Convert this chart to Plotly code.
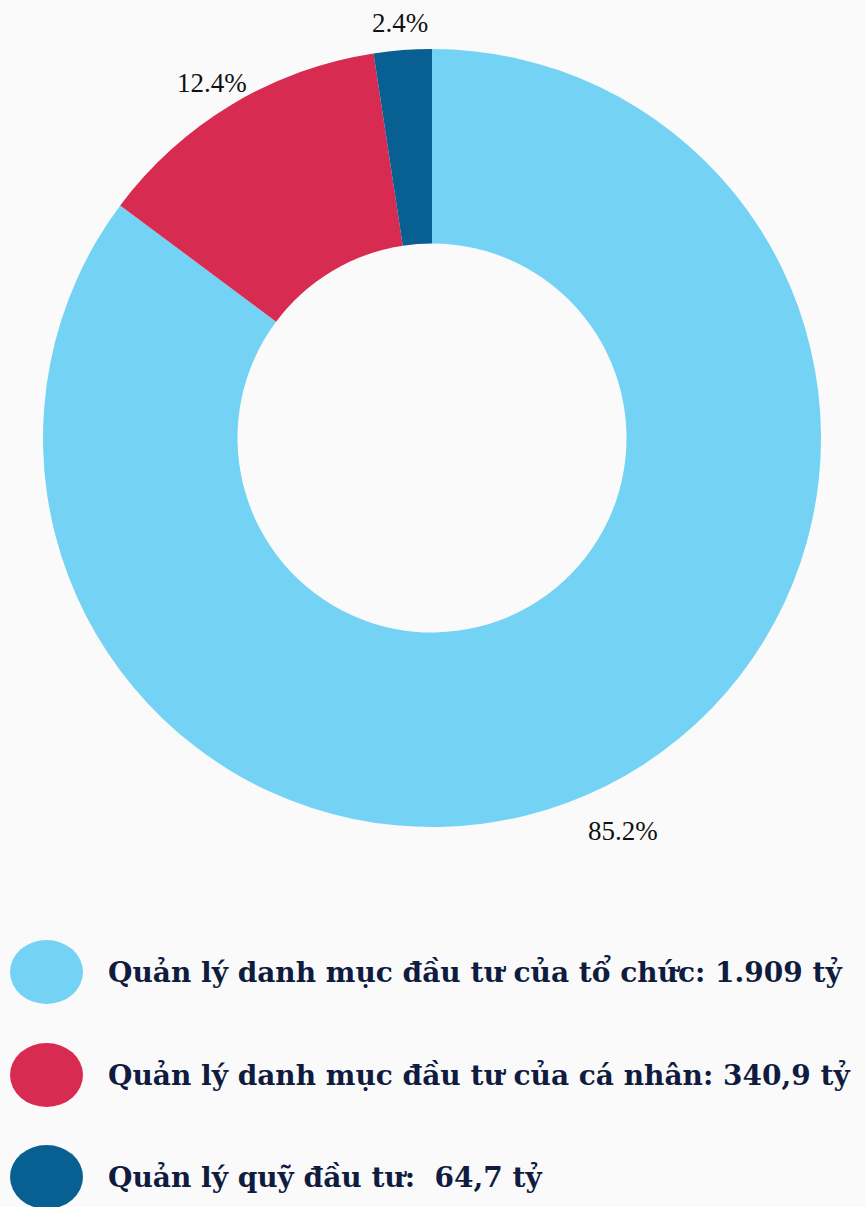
import math
import plotly.graph_objects as go

# Data
categories = ["Quản lý danh mục đầu tư của tổ chức", "Quản lý danh mục đầu tư của cá nhân", "Quản lý quỹ đầu tư"]
shares = [85.2, 12.4, 2.4]
amounts = ["1.909 tỷ", "340,9 tỷ", "\u00a064,7 tỷ"]
colors = ["#74D3F4", "#D82B51", "#075F92"]

W, H = 865, 1207
CX, CY, R = 432, 438, 389  # pie geometry in px (from top-left)

fig = go.Figure()
fig.add_trace(go.Pie(
    labels=categories,
    values=shares,
    hole=0.5,
    sort=False,
    direction="clockwise",
    rotation=0,
    marker=dict(colors=colors, line=dict(width=0)),
    textinfo="none",
    showlegend=False,
    hoverinfo="label+percent",
    domain=dict(x=[(CX - R) / W, (CX + R) / W], y=[(H - CY - R) / H, (H - CY + R) / H]),
))

annotations = []
# percentage labels outside each slice, placed at slice mid-angle
total = sum(shares)
cum = 0.0
LR, DY = 427, 11
for v in shares:
    mid = (cum + v / 2) / total * 2 * math.pi
    cum += v
    px = CX + LR * math.sin(mid)
    py = CY - LR * math.cos(mid) + DY
    annotations.append(dict(xref="paper", yref="paper", x=px / W, y=1 - py / H,
                            xanchor="center", yanchor="middle", showarrow=False,
                            text=f"{v}%",
                            font=dict(family="Liberation Serif, serif", size=27, color="#111111")))

# Custom legend
leg_y = [972, 1075, 1177]
shapes = []
for i, (name, amt, col) in enumerate(zip(categories, amounts, colors)):
    cy = leg_y[i]
    shapes.append(dict(type="circle", xref="paper", yref="paper",
                       x0=10 / W, x1=83 / W, y0=1 - (cy + 32) / H, y1=1 - (cy - 32) / H,
                       fillcolor=col, line=dict(width=0)))
    annotations.append(dict(xref="paper", yref="paper", x=106 / W, y=1 - cy / H,
                            xanchor="left", yanchor="middle", showarrow=False,
                            text=f"<b>{name}: {amt}</b>",
                            font=dict(family="DejaVu Serif, serif", size=28, color="#0F1C3F")))

fig.update_layout(
    width=W, height=H,
    margin=dict(l=0, r=0, t=0, b=0),
    paper_bgcolor="#FAFAFA",
    plot_bgcolor="#FAFAFA",
    shapes=shapes,
    annotations=annotations,
)
fig.write_html("out.html")
